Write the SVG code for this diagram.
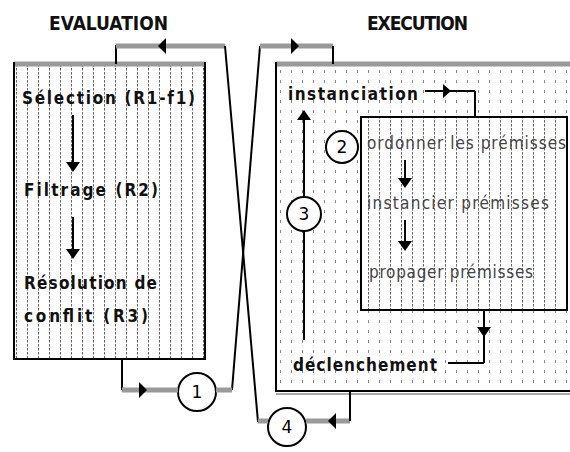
<svg xmlns="http://www.w3.org/2000/svg" width="570" height="452" viewBox="0 0 570 452">
<style>
.t{font-family:"DejaVu Sans Condensed","DejaVu Sans","Liberation Sans",sans-serif;font-weight:bold;font-size:17px;fill:#111}
.ti{font-family:"DejaVu Sans Condensed","DejaVu Sans","Liberation Sans",sans-serif;font-size:17px;fill:#444}
.h{font-family:"DejaVu Sans Condensed","DejaVu Sans","Liberation Sans",sans-serif;font-weight:bold;font-size:19px;fill:#111}
.g{stroke:#999;stroke-width:5;fill:none}
.k{stroke:#000;stroke-width:2;fill:none}
.c{fill:#fff;stroke:#000;stroke-width:2}
.n{font-family:"DejaVu Sans","Liberation Sans",sans-serif;font-size:17px;fill:#000;text-anchor:middle}
</style>
<defs>
<pattern id="dense" width="11" height="4" patternUnits="userSpaceOnUse">
<rect width="11" height="4" fill="#fff"/>
<line x1="5.5" y1="0" x2="5.5" y2="2.5" stroke="#666" stroke-width="1"/>
</pattern>
<pattern id="sparse" width="11" height="10" patternUnits="userSpaceOnUse">
<rect width="11" height="10" fill="#fff"/>
<line x1="5.5" y1="0" x2="5.5" y2="3" stroke="#888" stroke-width="1"/>
</pattern>
</defs>

<text class="h" x="49" y="30" textLength="119" lengthAdjust="spacing">EVALUATION</text>
<text class="h" x="367" y="30" textLength="101" lengthAdjust="spacing">EXECUTION</text>

<g id="evaluation">
<rect x="14" y="64" width="191" height="295" fill="url(#dense)"/>
<line x1="14" y1="64" x2="205" y2="64" stroke="#999" stroke-width="5"/>
<path d="M14 62 V359 H205 V62" class="k" stroke-width="2.5"/>
<text class="t" x="22" y="104" textLength="173" lengthAdjust="spacing">Sélection (R1-f1)</text>
<text class="t" x="24" y="196" textLength="134" lengthAdjust="spacing">Filtrage  (R2)</text>
<text class="t" x="24" y="289" textLength="133" lengthAdjust="spacing">Résolution de</text>
<text class="t" x="24" y="322" textLength="124" lengthAdjust="spacing">conflit  (R3)</text>
<line x1="73" y1="115" x2="73" y2="165" class="k"/>
<polygon points="66,162 80,162 73,172"/>
<line x1="73" y1="217" x2="73" y2="252" class="k"/>
<polygon points="66,249 80,249 73,259"/>
</g>

<g id="execution">
<rect x="276" y="64" width="294" height="327" fill="url(#sparse)"/>
<line x1="276" y1="64" x2="570" y2="64" stroke="#999" stroke-width="5"/>
<path d="M276 62 V391 H570" class="k" stroke-width="2.5"/>
<line x1="276" y1="394" x2="570" y2="394" stroke="#aaa" stroke-width="2"/>
<text class="t" x="288" y="100" textLength="130" lengthAdjust="spacing">instanciation</text>
<text class="t" x="293" y="371" textLength="144" lengthAdjust="spacing">déclenchement</text>
</g>

<g id="premisses">
<rect x="361" y="117" width="206" height="193" fill="url(#dense)"/>
<rect x="361" y="117" width="206" height="193" class="k"/>
<text class="ti" x="367" y="149" textLength="199" lengthAdjust="spacing">ordonner les prémisses</text>
<text class="ti" x="367" y="209" textLength="182" lengthAdjust="spacing">instancier prémisses</text>
<text class="ti" x="369" y="278" textLength="164" lengthAdjust="spacing">propager prémisses</text>
<line x1="405" y1="160" x2="405" y2="180" class="k"/>
<polygon points="398,178 412,178 405,188"/>
<line x1="405" y1="220" x2="405" y2="243" class="k"/>
<polygon points="398,241 412,241 405,251"/>
</g>

<g id="n1"><circle class="c" cx="197" cy="392" r="19"/><text class="n" x="197" y="398">1</text></g>
<g id="n2"><circle class="c" cx="342" cy="147" r="16"/><text class="n" x="342" y="153">2</text></g>
<g id="n3"><circle class="c" cx="304" cy="214" r="17"/><text class="n" x="304" y="220">3</text></g>
<g id="n4"><circle class="c" cx="287" cy="427" r="19"/><text class="n" x="287" y="433">4</text></g>

<g id="connectors">
<path d="M116 64 V46 H225" class="k"/>
<line x1="116" y1="46" x2="225" y2="46" class="g"/>
<polygon points="158,46 166,38 166,54"/>
<line x1="225" y1="46" x2="258" y2="422" class="k"/>
<line x1="260" y1="46" x2="232" y2="390" class="k"/>
<line x1="260" y1="46" x2="333" y2="46" class="g"/>
<polygon points="299,46 291,38 291,54"/>
<line x1="333" y1="46" x2="333" y2="64" class="k"/>
<path d="M122 359 V390" class="k"/>
<line x1="122" y1="390" x2="178" y2="390" class="g"/>
<polygon points="147,390 139,382 139,398"/>
<line x1="216" y1="390" x2="232" y2="390" class="g"/>
<line x1="258" y1="421" x2="268" y2="421" class="g"/>
<line x1="306" y1="421" x2="350" y2="421" class="g"/>
<polygon points="328,421 336,413 336,429"/>
<line x1="350" y1="391" x2="350" y2="421" class="k"/>
<line x1="425" y1="91" x2="475" y2="91" class="k"/>
<polygon points="451,91 443,84 443,98"/>
<line x1="475" y1="91" x2="475" y2="117" class="k"/>
<line x1="304" y1="197" x2="304" y2="118" class="k"/>
<polygon points="297,120 311,120 304,110"/>
<line x1="304" y1="231" x2="304" y2="340" class="k"/>
<line x1="484" y1="310" x2="484" y2="363" class="k"/>
<polygon points="477,327 491,327 484,337"/>
<line x1="448" y1="363" x2="484" y2="363" class="k"/>
</g>
</svg>
